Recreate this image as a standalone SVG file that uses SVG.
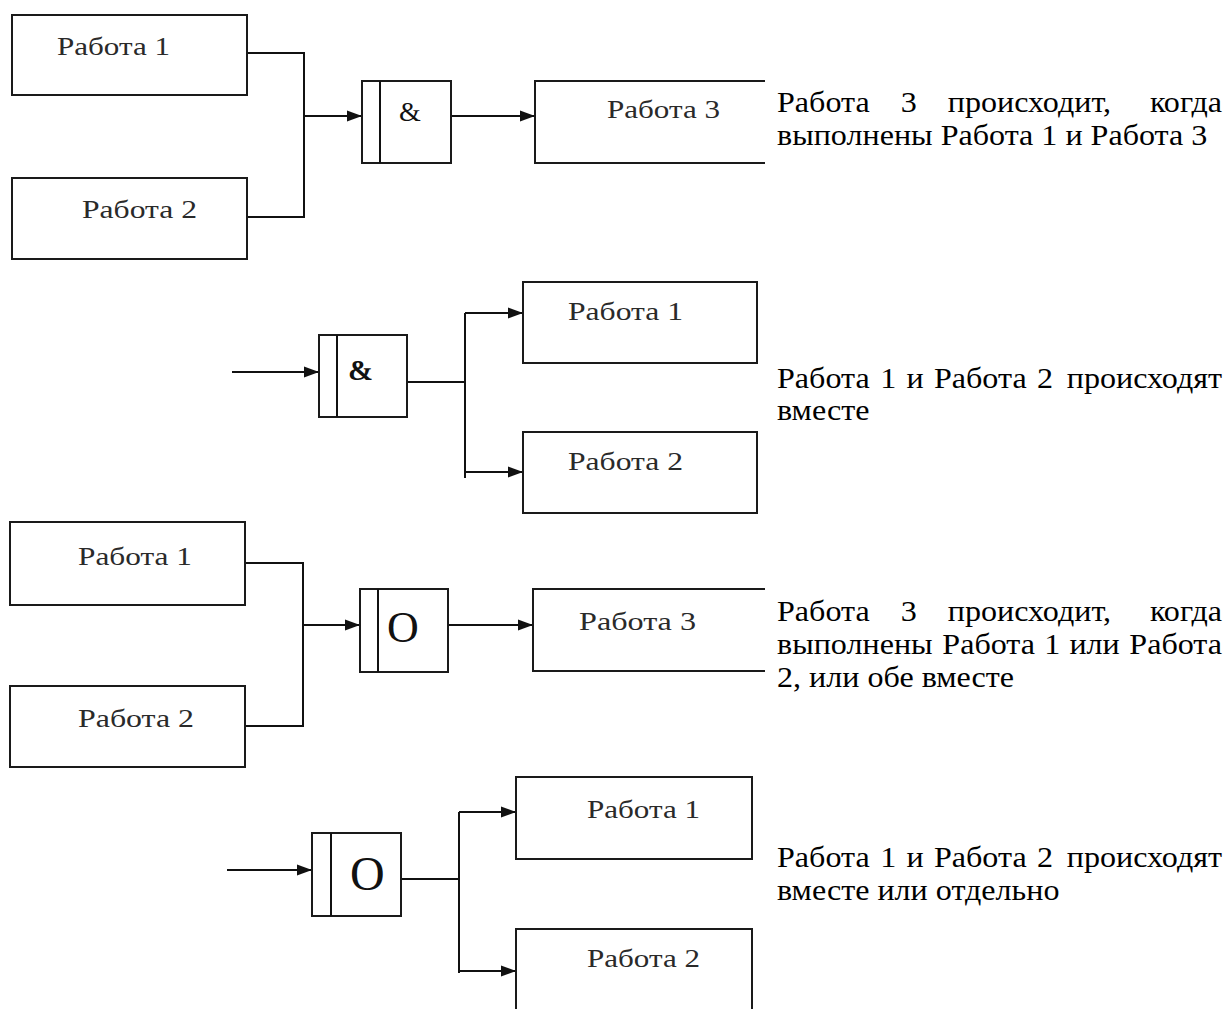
<svg xmlns="http://www.w3.org/2000/svg" width="1227" height="1009" viewBox="0 0 1227 1009">
<style>
.box{fill:none;stroke:#1a1a1a;stroke-width:2}
.ln{fill:none;stroke:#111;stroke-width:2}
.lbl{font-family:"Liberation Serif","Times New Roman",serif;font-size:25px;fill:#2a2a2a}
.dsc{font-family:"Liberation Serif","Times New Roman",serif;font-size:30px;fill:#000}
.sym{font-family:"Liberation Serif","Times New Roman",serif;fill:#111}
</style>
<defs>
<marker id="ah" markerUnits="userSpaceOnUse" markerWidth="16" markerHeight="12" refX="15" refY="6" orient="auto">
<path d="M0,0.5 L15,6 L0,11.5 z" fill="#111"/>
</marker>
</defs>
<rect width="1227" height="1009" fill="#fff"/>

<g id="connectors">
<path class="ln" d="M247,53 H304 V217 H247"/>
<path class="ln" d="M304,116 H362" marker-end="url(#ah)"/>
<path class="ln" d="M451,116 H535" marker-end="url(#ah)"/>
<path class="ln" d="M232,372 H319" marker-end="url(#ah)"/>
<path class="ln" d="M407,382 H465"/>
<path class="ln" d="M465,313 V478"/>
<path class="ln" d="M465,313 H523" marker-end="url(#ah)"/>
<path class="ln" d="M465,472 H523" marker-end="url(#ah)"/>
<path class="ln" d="M245,563 H303 V726 H245"/>
<path class="ln" d="M303,625 H360" marker-end="url(#ah)"/>
<path class="ln" d="M448,625 H533" marker-end="url(#ah)"/>
<path class="ln" d="M227,870 H312" marker-end="url(#ah)"/>
<path class="ln" d="M401,879 H459"/>
<path class="ln" d="M459,812 V973"/>
<path class="ln" d="M459,812 H516" marker-end="url(#ah)"/>
<path class="ln" d="M459,971 H516" marker-end="url(#ah)"/>
</g>

<g id="s1-work1">
<rect class="box" x="12" y="15" width="235" height="80"/>
<text class="lbl" x="57" y="55" textLength="113" lengthAdjust="spacingAndGlyphs">Работа 1</text>
</g>
<g id="s1-work2">
<rect class="box" x="12" y="178" width="235" height="81"/>
<text class="lbl" x="82" y="218" textLength="115" lengthAdjust="spacingAndGlyphs">Работа 2</text>
</g>
<g id="s1-and">
<rect class="box" x="362" y="81" width="89" height="82"/>
<line class="ln" x1="380" y1="81" x2="380" y2="163"/>
<text class="sym" x="399" y="121" font-size="28">&amp;</text>
</g>
<g id="s1-work3">
<path class="box" d="M765,81 H535 V163 H765"/>
<text class="lbl" x="607" y="118" textLength="113" lengthAdjust="spacingAndGlyphs">Работа 3</text>
</g>
<g id="s1-desc" class="dsc" transform="matrix(1.07,0,0,1,777,0)">
<text x="0" y="112">Работа</text>
<text x="115.7" y="112">3</text>
<text x="159.6" y="112">происходит,</text>
<text x="415.9" y="112" text-anchor="end">когда</text>
<text x="0" y="145">выполнены Работа 1 и Работа 3</text>
</g>

<g id="s2-and">
<rect class="box" x="319" y="335" width="88" height="82"/>
<line class="ln" x1="337" y1="335" x2="337" y2="417"/>
<text class="sym" x="348" y="380" font-size="30" font-weight="bold">&amp;</text>
</g>
<g id="s2-work1">
<rect class="box" x="523" y="282" width="234" height="81"/>
<text class="lbl" x="568" y="320" textLength="115" lengthAdjust="spacingAndGlyphs">Работа 1</text>
</g>
<g id="s2-work2">
<rect class="box" x="523" y="432" width="234" height="81"/>
<text class="lbl" x="568" y="470" textLength="115" lengthAdjust="spacingAndGlyphs">Работа 2</text>
</g>
<g id="s2-desc" class="dsc" transform="matrix(1.07,0,0,1,777,0)">
<text x="0" y="388">Работа</text>
<text x="96.4" y="388">1</text>
<text x="121" y="388">и</text>
<text x="146.7" y="388">Работа</text>
<text x="243.1" y="388">2</text>
<text x="415.9" y="388" text-anchor="end">происходят</text>
<text x="0" y="420">вместе</text>
</g>

<g id="s3-work1">
<rect class="box" x="10" y="522" width="235" height="83"/>
<text class="lbl" x="78" y="565" textLength="114" lengthAdjust="spacingAndGlyphs">Работа 1</text>
</g>
<g id="s3-work2">
<rect class="box" x="10" y="686" width="235" height="81"/>
<text class="lbl" x="78" y="727" textLength="116" lengthAdjust="spacingAndGlyphs">Работа 2</text>
</g>
<g id="s3-or">
<rect class="box" x="360" y="589" width="88" height="83"/>
<line class="ln" x1="378" y1="589" x2="378" y2="672"/>
<text class="sym" x="387" y="642" font-size="44">O</text>
</g>
<g id="s3-work3">
<path class="box" d="M765,589 H533 V671 H765"/>
<text class="lbl" x="579" y="630" textLength="117" lengthAdjust="spacingAndGlyphs">Работа 3</text>
</g>
<g id="s3-desc" class="dsc" transform="matrix(1.07,0,0,1,777,0)">
<text x="0" y="621">Работа</text>
<text x="115.7" y="621">3</text>
<text x="159.6" y="621">происходит,</text>
<text x="415.9" y="621" text-anchor="end">когда</text>
<text x="0" y="654">выполнены</text>
<text x="154.5" y="654">Работа</text>
<text x="249.8" y="654">1</text>
<text x="273.3" y="654">или</text>
<text x="415.9" y="654" text-anchor="end">Работа</text>
<text x="0" y="687">2, или обе вместе</text>
</g>

<g id="s4-or">
<rect class="box" x="312" y="833" width="89" height="83"/>
<line class="ln" x1="331" y1="833" x2="331" y2="916"/>
<text class="sym" x="350" y="890" font-size="48">O</text>
</g>
<g id="s4-work1">
<rect class="box" x="516" y="777" width="236" height="82"/>
<text class="lbl" x="587" y="818" textLength="113" lengthAdjust="spacingAndGlyphs">Работа 1</text>
</g>
<g id="s4-work2">
<path class="box" d="M516,1010 V929 H752 V1010"/>
<text class="lbl" x="587" y="967" textLength="113" lengthAdjust="spacingAndGlyphs">Работа 2</text>
</g>
<g id="s4-desc" class="dsc" transform="matrix(1.07,0,0,1,777,0)">
<text x="0" y="867">Работа</text>
<text x="96.4" y="867">1</text>
<text x="121" y="867">и</text>
<text x="146.7" y="867">Работа</text>
<text x="243.1" y="867">2</text>
<text x="415.9" y="867" text-anchor="end">происходят</text>
<text x="0" y="900">вместе или отдельно</text>
</g>
</svg>
